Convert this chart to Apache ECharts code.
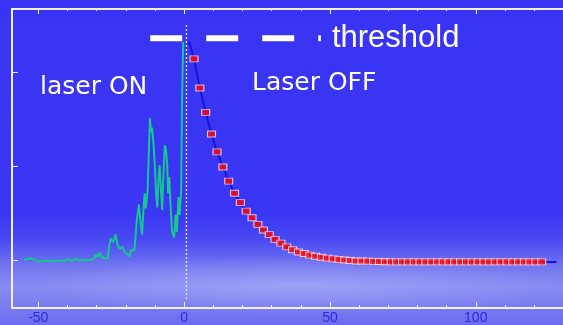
<!DOCTYPE html>
<html>
<head>
<meta charset="utf-8">
<script src="https://cdn.jsdelivr.net/npm/echarts@6/dist/echarts.min.js"></script>
<style>
  html, body { margin: 0; padding: 0; overflow: hidden; }
  #chart {
    width: 563px;
    height: 325px;
    background:
      radial-gradient(ellipse 260px 30px at 300px 285px, rgba(210, 210, 255, 0.3), rgba(210, 210, 255, 0) 100%),
      linear-gradient(to bottom, #3934f3 0%, #3a36f3 66%, #4a4af2 74%, #7276f0 82%, #888cf2 88%, #7c80f0 93%, #6a6cee 100%);
  }
</style>
</head>
<body>
<div id="chart"></div>
<script>
// laser ON signal (green)
const laserOnX = [-54.9, -53.9, -52.9, -51.8, -50.8, -49.8, -48.4, -47.0, -45.3, -43.6,
  -41.9, -40.5, -39.5, -38.8, -36.8, -36.4, -34.0, -32.3, -31.3, -30.0,
  -29.6, -28.9, -28.3, -27.8, -27.2, -26.2, -25.7, -25.1, -24.3, -23.5,
  -22.8, -22.0, -21.2, -20.5, -19.7, -18.8, -18.0, -17.1, -16.9, -16.3,
  -15.5, -14.9, -14.4, -14.0, -13.5, -13.1, -12.5, -12.1, -11.7, -11.4,
  -11.0, -10.5, -10.0, -9.6, -9.2, -8.8, -8.4, -8.0, -7.5, -7.2,
  -6.6, -6.2, -5.8, -5.5, -5.1, -4.6, -4.1, -3.4, -2.9, -2.5,
  -1.9, -1.5, -1.0, -0.7, -0.3]
const laserOnY = [0, 0.011, 0.016, 0.011, -0.005, -0.016, -0.011, -0.005, -0.011, -0.011,
  -0.005, -0.005, 0.011, -0.011, 0.018, -0.005, 0, 0, 0.005, 0.06,
  0.03, 0.08, 0.035, 0.027, 0.018, 0.014, 0.14, 0.23, 0.19, 0.27,
  0.16, 0.12, 0.14, 0.09, 0.07, 0.04, 0.11, 0.10, 0.14, 0.39,
  0.59, 0.39, 0.27, 0.50, 0.71, 0.55, 0.74, 1.14, 1.51, 1.36,
  1.41, 1.24, 0.99, 0.71, 0.56, 0.85, 1.01, 0.78, 0.53, 0.82,
  1.22, 1.17, 1.03, 0.71, 0.88, 0.56, 0.30, 0.24, 0.48, 0.30,
  0.67, 0.48, 0.74, 1.70, 2.32]

// laser OFF decay (red markers on blue line)
const decayX = [3.4, 5.4, 7.4, 9.4, 11.3, 13.3, 15.3, 17.3, 19.3, 21.3,
  23.3, 25.3, 27.2, 29.2, 31.2, 33.2, 35.2, 37.2, 39.2, 41.2,
  43.1, 45.1, 47.1, 49.1, 51.1, 53.1, 55.1, 57.0, 59.0, 61.0,
  63.0, 65.0, 67.0, 69.0, 71.0, 72.9, 74.9, 76.9, 78.9, 80.9,
  82.9, 84.9, 86.9, 88.8, 90.8, 92.8, 94.8, 96.8, 98.8, 100.8,
  102.8, 104.7, 106.7, 108.7, 110.7, 112.7, 114.7, 116.7, 118.6, 120.6,
  122.6]
const decayY = [2.14, 1.83, 1.57, 1.34, 1.15, 0.99, 0.84, 0.71, 0.61, 0.52,
  0.45, 0.38, 0.32, 0.27, 0.22, 0.18, 0.14, 0.11, 0.085, 0.07,
  0.053, 0.04, 0.03, 0.02, 0.012, 0.005, 0, -0.005, -0.01, -0.01,
  -0.012, -0.014, -0.016, -0.018, -0.02, -0.02, -0.02, -0.02, -0.02, -0.02,
  -0.02, -0.02, -0.02, -0.02, -0.02, -0.02, -0.02, -0.02, -0.02, -0.02,
  -0.02, -0.02, -0.02, -0.02, -0.02, -0.02, -0.02, -0.02, -0.02, -0.02,
  -0.02]
const decayStart = [1.6, 2.33]
const decayEnd = [127.7, -0.021]

const thresholdX = [-11.6, 46.9]
const thresholdY = [2.36, 2.36]

const switchX = [0.8, 0.8]
const switchY = [2.5, -0.415]

const xMajorTicks = [-50, 0, 50, 100]
const xMinorTicks = [-40, -30, -20, -10, 10, 20, 30, 40, 60, 70, 80, 90, 110, 120, 130]
const yTicks = [0, 1, 2]

const zip = (xs, ys) => xs.map((x, i) => [x, ys[i]])

const chart = echarts.init(document.getElementById('chart'))

const frame = '#f2f0ff'
// plot frame runs past the right edge of the window, as in the original slide
const gridBox = { left: 12, right: -30, top: 9, bottom: 17, outerBoundsMode: 'none', containLabel: false }
const xRange = { min: -59, max: 140.2 }
const yRange = { min: -0.51, max: 2.67 }

chart.setOption({
  animation: false,
  backgroundColor: 'transparent',
  grid: [
    { ...gridBox },
    { ...gridBox }
  ],
  xAxis: [
    {
      type: 'value', gridIndex: 0, position: 'bottom', ...xRange,
      splitLine: { show: false },
      axisLine: { onZero: false, lineStyle: { color: frame, width: 2 } },
      axisTick: { inside: true, length: 6, customValues: xMajorTicks, lineStyle: { color: frame, width: 1 } },
      axisLabel: {
        customValues: xMajorTicks, color: '#2a2ae2', fontSize: 14, margin: 3,
        fontFamily: 'Liberation Sans, Arial, sans-serif'
      }
    },
    {
      type: 'value', gridIndex: 0, position: 'top', ...xRange,
      splitLine: { show: false },
      axisLine: { onZero: false, lineStyle: { color: frame, width: 2 } },
      axisTick: { inside: true, length: 5, customValues: xMajorTicks, lineStyle: { color: frame, width: 1 } },
      axisLabel: { show: false }
    },
    {
      type: 'value', gridIndex: 1, position: 'bottom', ...xRange,
      splitLine: { show: false },
      axisLine: { show: false, onZero: false },
      axisTick: { inside: true, length: 3, customValues: xMinorTicks, lineStyle: { color: frame, width: 1 } },
      axisLabel: { show: false }
    },
    {
      type: 'value', gridIndex: 1, position: 'top', ...xRange,
      splitLine: { show: false },
      axisLine: { show: false, onZero: false },
      axisTick: { inside: true, length: 2, customValues: xMinorTicks, lineStyle: { color: frame, width: 1 } },
      axisLabel: { show: false }
    }
  ],
  yAxis: [
    {
      type: 'value', gridIndex: 0, position: 'left', ...yRange,
      splitLine: { show: false },
      axisLine: { show: true, onZero: false, lineStyle: { color: frame, width: 2 } },
      axisTick: { show: true, inside: true, length: 6, customValues: yTicks, lineStyle: { color: frame, width: 1 } },
      axisLabel: { show: false }
    },
    {
      type: 'value', gridIndex: 1, position: 'left', ...yRange, show: false,
      splitLine: { show: false },
      axisLine: { show: false },
      axisTick: { show: false },
      axisLabel: { show: false }
    }
  ],
  graphic: [
    {
      type: 'text', left: 40, top: 75,
      style: {
        text: 'laser ON', fill: '#ffffff', fontSize: 25,
        fontFamily: '"Comic Sans MS", "DejaVu Sans", sans-serif'
      }
    },
    {
      type: 'text', left: 252, top: 71,
      style: {
        text: 'Laser OFF', fill: '#ffffff', fontSize: 25,
        fontFamily: '"Comic Sans MS", "DejaVu Sans", sans-serif'
      }
    }
  ],
  series: [
    {
      name: 'threshold',
      type: 'line',
      xAxisIndex: 0, yAxisIndex: 0,
      data: zip(thresholdX, thresholdY),
      symbol: 'none',
      lineStyle: { color: '#ffffff', width: 6, type: [32, 24], cap: 'butt' },
      endLabel: {
        show: true, formatter: 'threshold', color: '#ffffff', fontSize: 31, distance: 11,
        fontFamily: 'Liberation Sans, Arial, sans-serif'
      },
      z: 3
    },
    {
      name: 'switch',
      type: 'line',
      xAxisIndex: 0, yAxisIndex: 0,
      data: zip(switchX, switchY),
      symbol: 'none',
      lineStyle: { color: '#d8d8f0', width: 1.5, type: [2, 2] },
      z: 2
    },
    {
      name: 'laser ON',
      type: 'line',
      xAxisIndex: 0, yAxisIndex: 0,
      data: zip(laserOnX, laserOnY),
      symbol: 'none',
      lineStyle: { color: '#14c98e', width: 2 },
      z: 4
    },
    {
      name: 'decay fit',
      type: 'line',
      xAxisIndex: 0, yAxisIndex: 0,
      data: [decayStart, ...zip(decayX, decayY), decayEnd],
      symbol: 'none',
      lineStyle: { color: '#1414e0', width: 2 },
      z: 4
    },
    {
      name: 'Laser OFF',
      type: 'scatter',
      xAxisIndex: 0, yAxisIndex: 0,
      data: zip(decayX, decayY),
      symbol: 'rect',
      symbolSize: [8, 6],
      itemStyle: { color: '#ff0a0a', borderColor: '#f4e6f4', borderWidth: 1 },
      z: 5
    }
  ]
})
</script>
</body>
</html>
